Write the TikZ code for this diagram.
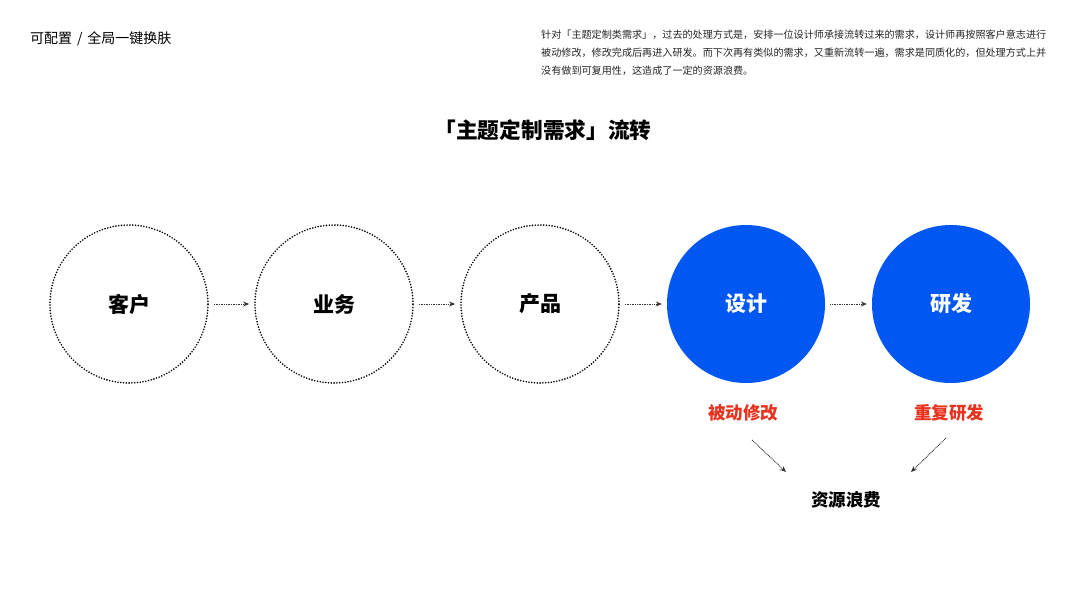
\documentclass[tikz,border=0pt]{standalone}
\usepackage{fontspec}
\setmainfont{Noto Sans CJK SC}
\newfontfamily\cjk{Noto Sans CJK SC}
\usetikzlibrary{arrows.meta}
\definecolor{bluefill}{HTML}{0057F2}
\definecolor{redtext}{HTML}{E8321E}
\definecolor{arrowgray}{HTML}{333333}
\tikzset{
  dotcircle/.style={circle, minimum size=158pt, inner sep=0pt, draw=black, line width=1.8pt, dash pattern=on 0pt off 2.8pt, line cap=round, font=\cjk\bfseries\fontsize{21}{24}\selectfont},
  bluecircle/.style={circle, minimum size=158pt, inner sep=0pt, fill=bluefill, text=white, font=\cjk\bfseries\fontsize{21}{24}\selectfont},
  flow/.style={draw=arrowgray, line width=0.9pt, dash pattern=on 0.9pt off 0.8pt, -{Stealth[length=6pt,width=5pt]}},
  redlabel/.style={text=redtext, font=\cjk\bfseries\fontsize{17.5}{20}\selectfont, inner sep=0pt},
  para/.style={anchor=west, inner sep=0pt, font=\cjk\fontsize{10.1}{12}\selectfont, text=black!85},
}
\begin{document}
\begin{tikzpicture}[x=1pt,y=-1pt]
\useasboundingbox (0,0) rectangle (1080,608);
\fill[white] (0,0) rectangle (1080,608);
\node[anchor=west, inner sep=0pt, font=\cjk\fontsize{14}{16}\selectfont] (head) at (30,39) {可配置\hspace{0.35em}/\hspace{0.35em}全局一键换肤};
\node[para] (p1) at (541,35) {针对「主题定制类需求」，过去的处理方式是，安排一位设计师承接流转过来的需求，设计师再按照客户意志进行};
\node[para] (p2) at (541,53) {被动修改，修改完成后再进入研发。而下次再有类似的需求，又重新流转一遍，需求是同质化的，但处理方式上并};
\node[para] (p3) at (541,71) {没有做到可复用性，这造成了一定的资源浪费。};
\node[inner sep=0pt, font=\cjk\bfseries\fontsize{21.7}{24}\selectfont] (title) at (543,130) {「主题定制需求」流转};
\node[dotcircle] (c1) at (129,304) {客户};
\node[dotcircle] (c2) at (334,304) {业务};
\node[dotcircle] (c3) at (540,304) {产品};
\node[bluecircle] (c4) at (746,304) {设计};
\node[bluecircle] (c5) at (951,304) {研发};
\draw[flow] ([xshift=5pt]c1.east) -- ([xshift=-5pt]c2.west);
\draw[flow] ([xshift=5pt]c2.east) -- ([xshift=-5pt]c3.west);
\draw[flow] ([xshift=5pt]c3.east) -- ([xshift=-5pt]c4.west);
\draw[flow] ([xshift=5pt]c4.east) -- ([xshift=-5pt]c5.west);
\node[redlabel] (r1) at (743,413) {被动修改};
\node[redlabel] (r2) at (949,413) {重复研发};
\node[inner sep=0pt, font=\cjk\bfseries\fontsize{17.5}{20}\selectfont] (waste) at (846,500) {资源浪费};
\coordinate (a1s) at (752,440);
\coordinate (a1e) at (786,472);
\coordinate (a2s) at (946,438);
\coordinate (a2e) at (911,472);
\draw[flow] (a1s) -- (a1e);
\draw[flow] (a2s) -- (a2e);
\end{tikzpicture}
\end{document}
